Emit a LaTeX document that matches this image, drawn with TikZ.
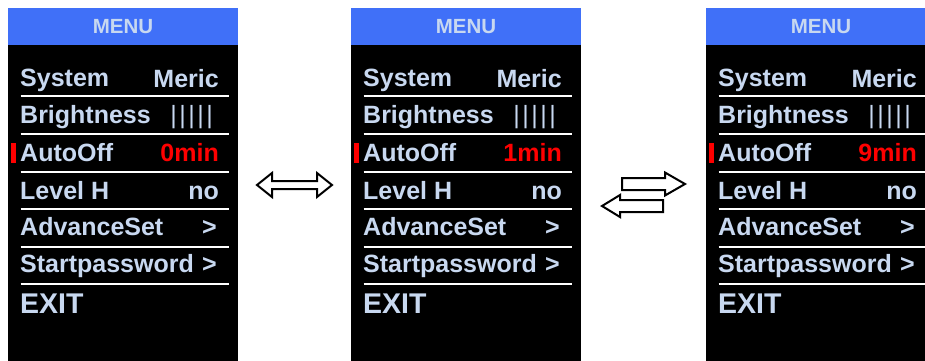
\documentclass[tikz,border=0pt]{standalone}
\usepackage{fontspec}
\setmainfont{Liberation Sans}
\usepackage{xcolor}
\usepackage{tikz}

\definecolor{menublue}{RGB}{64,112,248}
\definecolor{menutext}{RGB}{200,216,240}

\tikzset{
  rowtext/.style={anchor=base west, inner sep=0pt, text=menutext, font=\bfseries\fontsize{25}{30}\selectfont},
  rowval/.style={rowtext, anchor=base east},
  menutitle/.style={anchor=base, inner sep=0pt, text=menutext, font=\bfseries\fontsize{20.5}{24}\selectfont},
  rowline/.style={draw=white, line width=2pt},
  blockarrow/.style={draw=black, fill=white, line width=2pt, line join=miter}
}

\begin{document}
\begin{tikzpicture}[x=1pt, y=-1pt]
                        \useasboundingbox (0,0) rectangle (925,360);
                        \clip (0,0) rectangle (925,360);
                        \foreach \x/\v in {8/0min, 351/1min, 706/9min}
                        {
                        \fill[xshift=\x pt, black] (0,8) rectangle (230,362);
                        \fill[xshift=\x pt, menublue] (0,8) rectangle (230,45);
                        \node[xshift=\x pt, menutitle] (menu\x) at (115,33.5) {MENU};
                        \foreach \y in {95.7, 134, 172, 209, 247, 284}
                        \draw[xshift=\x pt, rowline] (12.7,\y) -- (220.7,\y);
                        \node[xshift=\x pt, rowtext] (sys\x) at (12,86) {System};
                        \node[xshift=\x pt, rowval] (sysval\x) at (211,87.5) {Meric};
                        \node[xshift=\x pt, rowtext] (bright\x) at (12,123) {Brightness};
                        \node[xshift=\x pt, rowval, font=\fontsize{25}{30}\selectfont] (brightval\x) at (205,123) {|\kern2.5pt|\kern2.5pt|\kern2.5pt|\kern2.5pt|};
                        \fill[xshift=\x pt, red] (3,143) rectangle (8,163);
                        \node[xshift=\x pt, rowtext] (auto\x) at (12,161) {AutoOff};
                        \node[xshift=\x pt, rowval, text=red] (autoval\x) at (211,161) {\v};
                        \node[xshift=\x pt, rowtext] (level\x) at (12,199) {Level H};
                        \node[xshift=\x pt, rowval] (levelval\x) at (211,199) {no};
                        \node[xshift=\x pt, rowtext] (adv\x) at (12,235) {AdvanceSet};
                        \node[xshift=\x pt, rowval] (advval\x) at (209,235) {>};
                        \node[xshift=\x pt, rowtext] (pwd\x) at (12,272) {Startpassword};
                        \node[xshift=\x pt, rowval] (pwdval\x) at (209,272) {>};
                        \node[xshift=\x pt, rowtext, font=\bfseries\fontsize{28.5}{34}\selectfont] (exit\x) at (12,313) {EXIT};
                        }
                        \draw[blockarrow] (257,185) -- (272,173) -- (272,181) -- (317,181) -- (317,173) -- (332,185)
                            -- (317,197) -- (317,189) -- (272,189) -- (272,197) -- cycle;
                        \draw[blockarrow] (622,178) -- (665,178) -- (665,172.5) -- (685,184) -- (665,195.5) -- (665,190) -- (622,190) -- cycle;
                        \draw[blockarrow] (663,200) -- (620,200) -- (620,195) -- (602,206) -- (620,217) -- (620,212) -- (663,212) -- cycle;
                    \end{tikzpicture}
\end{document}
